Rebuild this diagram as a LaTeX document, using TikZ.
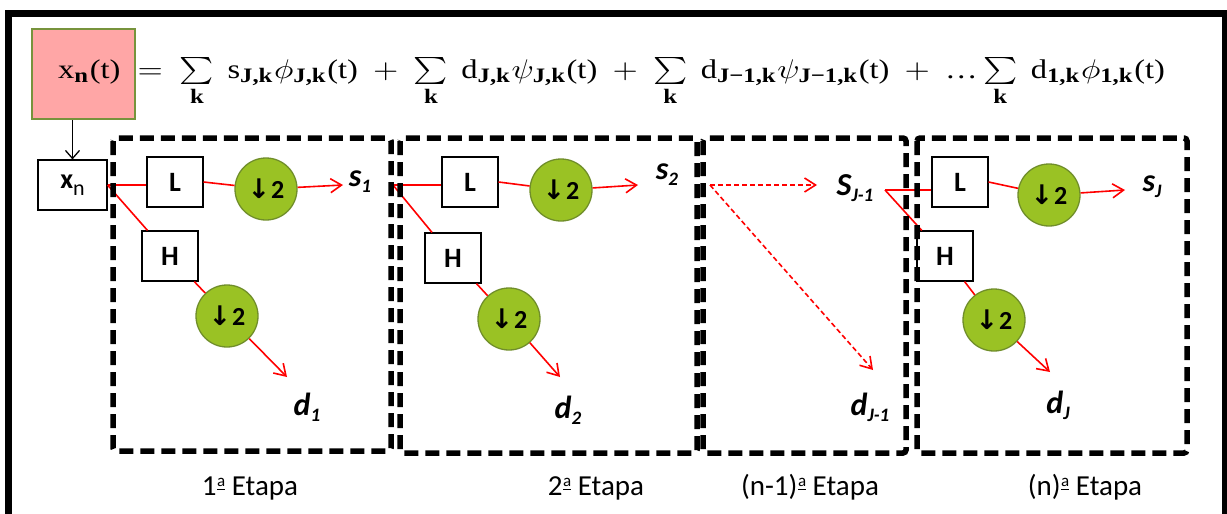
\documentclass[tikz,border=0pt]{standalone}
\usepackage{amsmath}
\usepackage{fontspec}
\usepackage{graphicx}
\setmainfont{Carlito}
\newfontfamily\calib{Carlito}
\newfontfamily\ser{Liberation Serif}
\newfontfamily\djv{DejaVu Sans}
\usetikzlibrary{arrows.meta}
\definecolor{circfill}{RGB}{154,194,36}
\definecolor{circdraw}{RGB}{112,142,42}
\definecolor{pinkf}{RGB}{255,166,166}
\definecolor{pinkd}{RGB}{119,147,60}
\newcommand{\sublab}[2]{{\calib\bfseries\itshape #1\raisebox{-6pt}{\fontsize{19}{19}\selectfont #2}}}
\newcommand{\dsym}{{\djv\bfseries\fontsize{27}{27}\selectfont ↓}\kern1pt{\calib\bfseries\fontsize{26}{26}\selectfont 2}}
\newcommand{\tm}[1]{\text{\ser #1}}
\newcommand{\tb}[1]{\mbox{\ser\bfseries\fontsize{7.6}{8}\selectfont #1}}
\newcommand{\ordm}{\kern0.5pt\raisebox{5pt}{\rlap{\rule{8pt}{1.4pt}}\raisebox{3.5pt}{\fontsize{17}{17}\selectfont a}}}
\begin{document}
\begin{tikzpicture}[x=1pt,y=-1pt,
  blk/.style={draw=black,line width=1.1pt,fill=white,minimum width=56pt,minimum height=50pt,inner sep=0pt,font=\calib\bfseries\fontsize{28}{28}\selectfont},
  ds/.style={draw=circdraw,line width=1.3pt,fill=circfill,circle,minimum size=62pt,inner sep=0pt},
  rl/.style={draw=red,line width=1.6pt},
  ra/.style={rl,-{Straight Barb[length=11pt,width=14pt,line width=1.6pt]}},
  rd/.style={ra,dash pattern=on 5pt off 3pt},
  lab/.style={font=\fontsize{32}{32}\selectfont,inner sep=0pt},
  stagebox/.style={draw=black,line width=5.5pt,dash pattern=on 14pt off 7pt,rounded corners=3pt},
  etapa/.style={font=\calib\fontsize{29}{29}\selectfont,inner sep=0pt,anchor=base}]
\useasboundingbox (0,0) rectangle (1227,514);
\draw[line width=7pt] (8.5,13.5) rectangle (1225,517);
% formula
\node[draw=pinkd,line width=2pt,fill=pinkf,minimum width=103pt,minimum height=90pt,inner sep=0pt] (pink) at (83.5,74) {};
\node[anchor=base west,inner sep=0pt] (eq) at (58,78) {\scalebox{3.25}[2.7]{\makebox[343pt][l]{\fontsize{10}{12}\selectfont
$\tm{x}_{\tb{n}}\tm{(t)}\hfil=\hfil\sum\limits_{\tb{k}}\hfil\tm{s}_{\tb{J,k}}\phi_{\tb{J,k}}\tm{(t)}\hfil+\hfil\sum\limits_{\tb{k}}\hfil\tm{d}_{\tb{J,k}}\psi_{\tb{J,k}}\tm{(t)}\hfil+\hfil\sum\limits_{\tb{k}}\hfil\tm{d}_{\tb{J−1,k}}\psi_{\tb{J−1,k}}\tm{(t)}\hfil+\hfil\tm{…}\sum\limits_{\tb{k}}\hfil\tm{d}_{\tb{1,k}}\phi_{\tb{1,k}}\tm{(t)}$}}};
% stage 1
\node[blk,minimum width=69pt] (xn) at (72.5,185) {x\raisebox{-7pt}{\mdseries\fontsize{22}{22}\selectfont n}};
\draw[line width=1.3pt,-{Straight Barb[length=8pt,width=14pt,line width=1.3pt]}] (xn.north |- pink.south) -- (xn.north);
\node[blk] (L1) at (175,182) {L};
\node[blk] (H1) at (170,256) {H};
\node[ds] (D1) at (266,189) {\dsym};
\node[ds] (D2) at (227,316) {\dsym};
\coordinate (s1a) at (343,185);
\coordinate (d1a) at (287,377);
\node[lab] (s1) at (360,182) {\sublab{s}{1}};
\node[lab] (d1) at (307,407) {\sublab{d}{1}};
\draw[rl] (xn.east) -- (xn.east -| L1.west);
\draw[rl] (L1.east) -- (D1);
\draw[ra] (D1) -- (s1a);
\draw[rl] (xn.east) -- (H1);
\draw[rl] (H1) -- (D2);
\draw[ra] (D2) -- (d1a);
% stage 2
\coordinate (j2) at (393,185);
\node[blk] (L2) at (470,182) {L};
\node[blk] (H2) at (453,258) {H};
\node[ds] (D3) at (561,190) {\dsym};
\node[ds] (D4) at (509,319) {\dsym};
\coordinate (s2a) at (638,185);
\coordinate (d2a) at (560,377);
\node[lab] (s2) at (667,175) {\sublab{s}{2}};
\node[lab] (d2) at (568,410) {\sublab{d}{2}};
\draw[rl] (j2) -- (j2 -| L2.west);
\draw[rl] (L2.east) -- (D3);
\draw[ra] (D3) -- (s2a);
\draw[rl] (j2) -- (H2);
\draw[rl] (H2) -- (D4);
\draw[ra] (D4) -- (d2a);
% stage 3
\coordinate (j3) at (710,185);
\coordinate (sJ1a) at (817,185);
\coordinate (dJ1a) at (873,370);
\node[lab] (sJ1) at (855,188) {\sublab{S}{J-1}};
\node[lab] (dJ1) at (870,407) {\sublab{d}{J-1}};
\draw[rd] (j3) -- (sJ1a);
\draw[rd] (j3) -- (dJ1a);
% stage 4
\coordinate (j4) at (885,190);
\node[blk] (L4) at (960,182) {L};
\node[blk] (H4) at (945,256) {H};
\node[ds] (D5) at (1049,195) {\dsym};
\node[ds] (D6) at (994,320) {\dsym};
\coordinate (sJa) at (1125,190);
\coordinate (dJa) at (1050,372);
\node[lab] (sJ) at (1152,187) {\sublab{s}{J}};
\node[lab] (dJ) at (1058,405) {\sublab{d}{J}};
\draw[rl] (j4) -- (j4 -| L4.west);
\draw[rl] (L4.east) -- (D5);
\draw[ra] (D5) -- (sJa);
\draw[rl] (j4) -- (H4);
\draw[rl] (H4) -- (D6);
\draw[ra] (D6) -- (dJa);
% stage boxes
\draw[stagebox] (113,138) rectangle (391,451);
\draw[stagebox] (400,138) rectangle (697,453);
\draw[stagebox] (703,138) rectangle (906,453);
\draw[stagebox] (917,138) rectangle (1187,453);
% labels
\node[etapa] (e1) at (250,495) {1\ordm{} Etapa};
\node[etapa] (e2) at (596,495) {2\ordm{} Etapa};
\node[etapa] (e3) at (810,495) {(n-1)\ordm{} Etapa};
\node[etapa] (e4) at (1085,495) {(n)\ordm{} Etapa};
\end{tikzpicture}
\end{document}
